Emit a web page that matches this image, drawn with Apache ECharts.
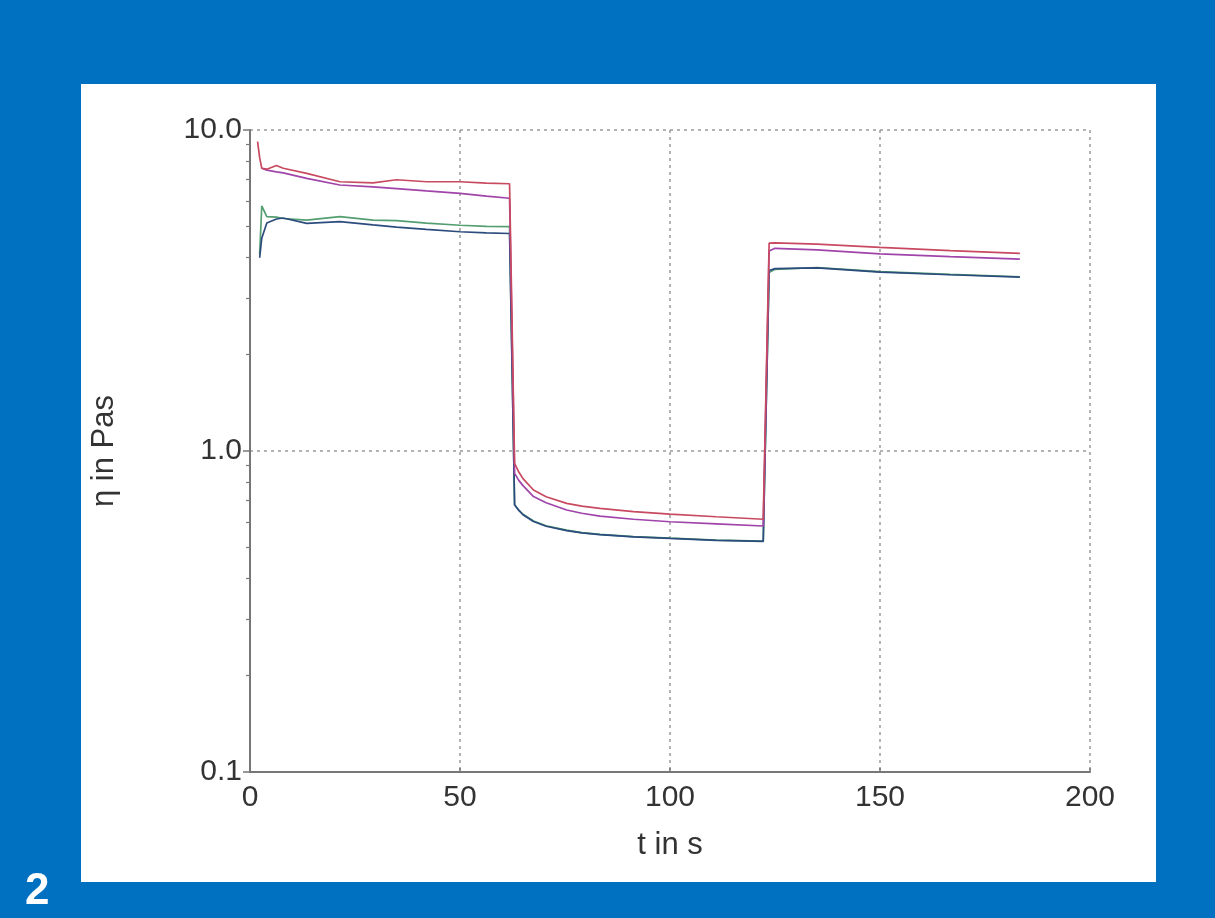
<!DOCTYPE html>
<html>
<head>
<meta charset="utf-8">
<script src="https://cdn.jsdelivr.net/npm/echarts@6/dist/echarts.min.js"></script>
<style>
  html, body { margin: 0; padding: 0; width: 1215px; height: 918px; background: #0070c0; overflow: hidden; }
  #panel { position: absolute; left: 81px; top: 84px; width: 1075px; height: 798px; background: #ffffff; }
  #chart { position: absolute; left: 0; top: 0; width: 1215px; height: 918px; }
</style>
</head>
<body>
<div id="panel"></div>
<div id="chart"></div>
<script>
// time in s
const time = [1.8, 2.3, 2.8, 4, 6.3, 7.9, 13.5, 21.4, 29.3, 34.9, 42, 50, 56.3, 61.8,
              63.0, 64, 65, 67.5, 70.5, 75.4, 79, 83.3, 91.3, 100, 111, 122.2,
              123.6, 125, 135, 150, 166.7, 183.3];
// viscosity in Pas
const redVals     = [9.2, 8.2, 7.6, 7.55, 7.75, 7.6, 7.33, 6.9, 6.84, 7.0, 6.9, 6.9, 6.83, 6.8,
                     0.915, 0.86, 0.82, 0.756, 0.72, 0.687, 0.673, 0.663, 0.647, 0.636, 0.624, 0.613,
                     4.44, 4.45, 4.41, 4.31, 4.21, 4.13];
const magentaVals = [null, null, 7.6, 7.5, 7.41, 7.35, 7.07, 6.74, 6.65, 6.57, 6.46, 6.35, 6.22, 6.13,
                     0.852, 0.81, 0.78, 0.721, 0.69, 0.655, 0.64, 0.627, 0.613, 0.602, 0.593, 0.584,
                     4.2, 4.28, 4.23, 4.11, 4.03, 3.96];
const greenVals   = [null, 4.1, 5.8, 5.37, 5.35, 5.3, 5.24, 5.37, 5.24, 5.22, 5.13, 5.05, 5.01, 5.0,
                     0.679, 0.655, 0.635, 0.605, 0.585, 0.567, 0.557, 0.55, 0.541, 0.535, 0.528, 0.524,
                     3.6, 3.68, 3.73, 3.62, 3.55, 3.49];
const blueVals    = [null, 4.0, 4.6, 5.13, 5.28, 5.32, 5.12, 5.18, 5.06, 4.98, 4.9, 4.82, 4.78, 4.76,
                     0.68, 0.653, 0.633, 0.603, 0.583, 0.565, 0.556, 0.549, 0.54, 0.534, 0.527, 0.523,
                     3.65, 3.7, 3.72, 3.61, 3.54, 3.48];
const xTicks = [0, 50, 100, 150, 200];
const yTicks = [0.1, 1.0, 10.0];
const minorTickValues = [0.2, 0.3, 0.4, 0.5, 0.6, 0.7, 0.8, 0.9, 2, 3, 4, 5, 6, 7, 8, 9];

function pairs(vals) {
  return time.map((t, i) => [t, vals[i]]);
}

const textColor = '#333333';
const font = 'Liberation Sans, Arial, sans-serif';

const chart = echarts.init(document.getElementById('chart'), null, { renderer: 'canvas' });

function lineSeries(name, vals, color, z) {
  return {
    name: name,
    type: 'line',
    data: pairs(vals),
    showSymbol: false,
    symbol: 'none',
    smooth: false,
    connectNulls: false,
    z: z,
    lineStyle: { color: color, width: 1.7 },
    xAxisIndex: 0,
    yAxisIndex: 0
  };
}

chart.setOption({
  backgroundColor: 'transparent',
  animation: false,
  grid: { left: 250, top: 130, right: 125, bottom: 146, containLabel: false },
  xAxis: [{
    type: 'value',
    min: xTicks[0],
    max: xTicks[xTicks.length - 1],
    interval: 50,
    name: 't in s',
    nameLocation: 'middle',
    nameGap: 58,
    nameTextStyle: { color: textColor, fontSize: 31, fontFamily: font },
    axisLine: { show: true, onZero: false, lineStyle: { color: '#777777', width: 2 } },
    axisTick: { show: true, inside: true, length: 4, lineStyle: { color: '#777777', width: 1.5 } },
    axisLabel: { color: textColor, fontSize: 30, fontFamily: font, margin: 11 },
    splitLine: { show: true, lineStyle: { color: '#9a9a9a', width: 1.5, type: [3, 4] } }
  }],
  yAxis: [{
    type: 'log',
    logBase: 10,
    min: yTicks[0],
    max: yTicks[yTicks.length - 1],
    name: 'η in Pas',
    nameLocation: 'middle',
    nameRotate: 90,
    nameGap: 130,
    nameTextStyle: { color: textColor, fontSize: 31, fontFamily: font },
    axisLine: { show: true, onZero: false, lineStyle: { color: '#777777', width: 2 } },
    axisTick: { show: true, inside: false, length: 7, lineStyle: { color: '#777777', width: 1.5 } },
    axisLabel: {
      color: textColor, fontSize: 30, fontFamily: font, margin: 8,
      formatter: function (v) { return Number(v).toFixed(1); }
    },
    splitLine: { show: true, lineStyle: { color: '#9a9a9a', width: 1.5, type: [3, 4] } }
  }, {
    // helper axis in log10 space used only for the minor tick marks
    type: 'value',
    min: -1,
    max: 1,
    position: 'left',
    axisLine: { show: false, onZero: false },
    axisLabel: { show: false },
    splitLine: { show: false },
    axisTick: {
      show: true, inside: false, length: 4,
      customValues: minorTickValues.map(v => Math.log10(v)),
      lineStyle: { color: '#777777', width: 1.2 }
    }
  }],
  series: [
    lineSeries('green', greenVals, '#559e72', 3),
    lineSeries('blue', blueVals, '#2c4c7e', 4),
    lineSeries('magenta', magentaVals, '#a044aa', 5),
    lineSeries('red', redVals, '#c84a60', 6)
  ],
  graphic: [{
    type: 'text',
    left: 25,
    top: 870,
    style: { text: '2', fill: '#ffffff', font: 'bold 44px Liberation Sans, Arial, sans-serif' }
  }]
});
</script>
</body>
</html>
